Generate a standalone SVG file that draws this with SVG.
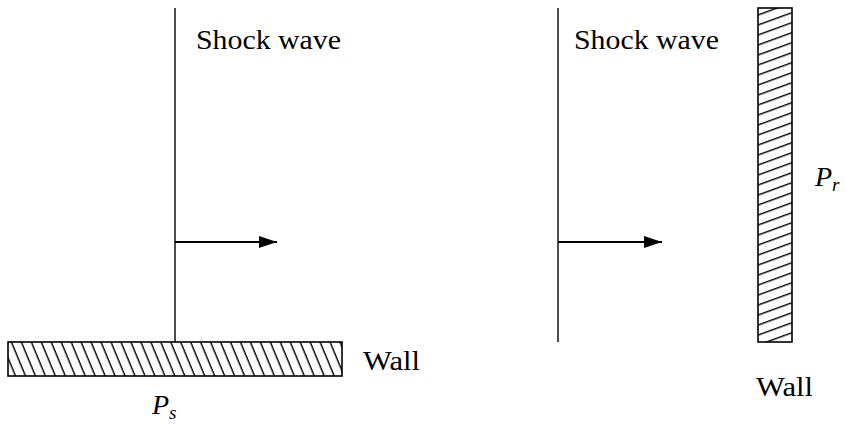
<svg xmlns="http://www.w3.org/2000/svg" width="845" height="428" viewBox="0 0 845 428">
<defs>
<style>
.ln{stroke:#000;stroke-width:1.4;fill:none}
.ar{stroke:#000;stroke-width:2.2;fill:none}
.wall{stroke:#000;stroke-width:1.6}
</style>
<pattern id="hatchL" patternUnits="userSpaceOnUse" width="20" height="9.2" patternTransform="rotate(67.5)">
<rect width="20" height="9.2" fill="#fff"/>
<line x1="0" y1="0.7" x2="20" y2="0.7" stroke="#000" stroke-width="1.4"/>
</pattern>
<pattern id="hatchR" patternUnits="userSpaceOnUse" width="20" height="9.4" patternTransform="rotate(-20)">
<rect width="20" height="9.4" fill="#fff"/>
<line x1="0" y1="0.7" x2="20" y2="0.7" stroke="#000" stroke-width="1.4"/>
</pattern>
<marker id="ah" markerUnits="userSpaceOnUse" markerWidth="20" markerHeight="14" refX="18" refY="7" orient="auto">
<path d="M0,1 L18,7 L0,13 Z" fill="#000"/>
</marker>
</defs>
<rect width="845" height="428" fill="#fff"/>
<g id="wave-left">
<line class="ln" x1="175" y1="8" x2="175" y2="342"/>
<text x="196" y="49" font-family="Liberation Serif, serif" font-size="28" textLength="145" lengthAdjust="spacingAndGlyphs">Shock wave</text>
</g>
<g id="wall-left">
<rect class="wall" x="8" y="342" width="334" height="34" fill="url(#hatchL)"/>
<text x="363" y="370" font-family="Liberation Serif, serif" font-size="28" textLength="57" lengthAdjust="spacingAndGlyphs">Wall</text>
<text x="152" y="414" font-family="Liberation Serif, serif" font-size="28" font-style="italic">P<tspan font-size="19" dy="5">s</tspan></text>
</g>
<g id="wave-right">
<line class="ln" x1="558" y1="8" x2="558" y2="342"/>
<text x="574" y="49" font-family="Liberation Serif, serif" font-size="28" textLength="145" lengthAdjust="spacingAndGlyphs">Shock wave</text>
</g>
<g id="wall-right">
<rect class="wall" x="758" y="8" width="34" height="334" fill="url(#hatchR)"/>
<text x="756" y="396" font-family="Liberation Serif, serif" font-size="28" textLength="57" lengthAdjust="spacingAndGlyphs">Wall</text>
<text x="815" y="186" font-family="Liberation Serif, serif" font-size="28" font-style="italic">P<tspan font-size="19" dy="5">r</tspan></text>
</g>
<g id="connectors">
<line class="ar" x1="175" y1="242" x2="277" y2="242" marker-end="url(#ah)"/>
<line class="ar" x1="558" y1="242" x2="662" y2="242" marker-end="url(#ah)"/>
</g>
</svg>
